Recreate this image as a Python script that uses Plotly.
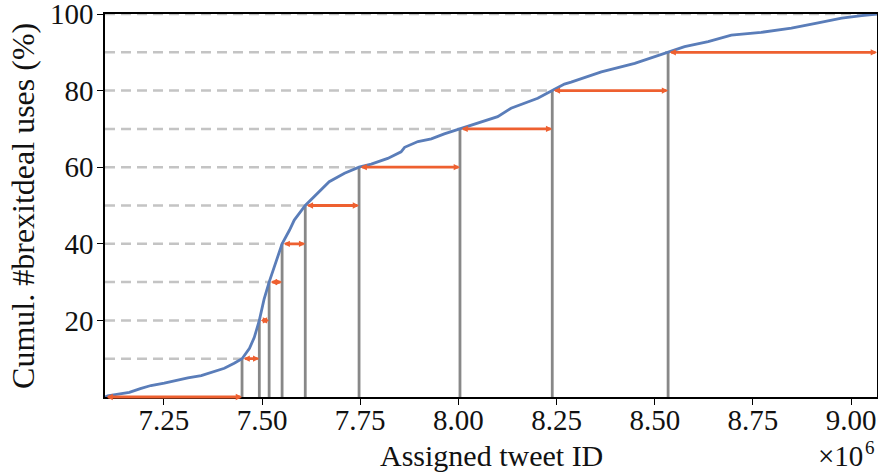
import plotly.graph_objects as go

# Cumulative curve (tweet ID in millions, cumulative %)
curve_id = [7.100, 7.107, 7.130, 7.162, 7.190, 7.217, 7.251, 7.280, 7.311, 7.345,
            7.375, 7.404, 7.429, 7.449, 7.468, 7.480, 7.493, 7.505, 7.518, 7.531,
            7.540, 7.551, 7.570, 7.582, 7.610, 7.633, 7.671, 7.710, 7.747, 7.778,
            7.820, 7.854, 7.863, 7.897, 7.931, 7.964, 8.004, 8.066, 8.100, 8.134,
            8.168, 8.202, 8.239, 8.270, 8.287, 8.330, 8.364, 8.449, 8.534, 8.576,
            8.636, 8.695, 8.771, 8.848, 8.916, 8.976, 9.027, 9.066]
curve_pct = [0.0, 0.3, 0.7, 1.2, 2.2, 3.0, 3.6, 4.3, 5.0, 5.6,
             6.5, 7.5, 8.8, 10.0, 12.7, 15.5, 20.0, 25.5, 30.0, 34.0,
             37.0, 40.0, 43.6, 46.2, 50.0, 52.3, 56.2, 58.4, 60.0, 60.8,
             62.3, 64.0, 65.2, 66.7, 67.4, 68.7, 70.0, 71.9, 73.2, 75.4,
             76.7, 78.0, 80.0, 81.7, 82.2, 83.8, 84.9, 87.1, 90.0, 91.5,
             92.8, 94.5, 95.2, 96.3, 97.7, 98.9, 99.6, 100.0]

# Decile levels and where the curve crosses them
decile_pct = [10, 20, 30, 40, 50, 60, 70, 80, 90]
decile_id = [7.449, 7.493, 7.518, 7.551, 7.610, 7.747, 8.004, 8.239, 8.534]
id_min = 7.100
id_max = 9.066

xtick_vals = [7.25, 7.50, 7.75, 8.00, 8.25, 8.50, 8.75, 9.00]
ytick_vals = [20, 40, 60, 80, 100]

BLUE = "#5A7DB9"
ORANGE = "#EE6030"
GRAY = "#888888"
LGRAY = "#C4C4C4"
FONT = "Liberation Serif"
TXT = "#111111"

fig = go.Figure()

# dashed horizontal guides
dx, dy = [], []
for p, xi in zip(decile_pct, decile_id):
    dx += [id_min, xi, None]
    dy += [p, p, None]
dx += [id_min, id_max, None]
dy += [100, 100, None]
fig.add_trace(go.Scatter(x=dx, y=dy, mode="lines",
                         line=dict(color=LGRAY, width=2.5, dash="10px,6px"),
                         hoverinfo="skip", showlegend=False))

# vertical grey lines
vx, vy = [], []
for p, xi in zip(decile_pct, decile_id):
    vx += [xi, xi, None]
    vy += [0, p, None]
fig.add_trace(go.Scatter(x=vx, y=vy, mode="lines",
                         line=dict(color=GRAY, width=2.8),
                         hoverinfo="skip", showlegend=False))

# cumulative curve
fig.add_trace(go.Scatter(x=curve_id, y=curve_pct, mode="lines",
                         line=dict(color=BLUE, width=2.8),
                         showlegend=False))

# orange double-headed arrows between deciles
starts = [id_min] + decile_id
ends = decile_id + [id_max]
levels = [0] + decile_pct
for xs, xe, lv in zip(starts, ends, levels):
    fig.add_annotation(x=xe, y=lv, ax=xs, ay=lv, xref="x", yref="y",
                       axref="x", ayref="y", text="", showarrow=True,
                       arrowhead=2, arrowside="end+start", arrowsize=0.45,
                       arrowwidth=2.8, arrowcolor=ORANGE)

# axis titles and offset label
fig.add_annotation(text="Assigned tweet ID", xref="paper", yref="paper",
                   x=0.5, y=-0.152, xanchor="center", yanchor="middle",
                   showarrow=False, font=dict(family=FONT, size=30, color=TXT))
fig.add_annotation(text="Cumul. #brexitdeal uses (%)", xref="paper", yref="paper",
                   x=-0.107, y=0.50, xanchor="center", yanchor="middle", textangle=-90,
                   showarrow=False, font=dict(family=FONT, size=32, color=TXT))
fig.add_annotation(text="×10", xref="paper", yref="paper",
                   x=0.984, y=-0.153, xanchor="right", yanchor="middle",
                   showarrow=False, font=dict(family=FONT, size=29, color=TXT))
fig.add_annotation(text="6", xref="paper", yref="paper",
                   x=1.0, y=-0.131, xanchor="right", yanchor="middle",
                   showarrow=False, font=dict(family=FONT, size=19, color=TXT))

axis_common = dict(showgrid=False, zeroline=False, showline=True, mirror=True,
                   linecolor="black", linewidth=1.5, ticks="outside", ticklen=6,
                   tickcolor="black", automargin=False, ticklabeloverflow="allow",
                   tickfont=dict(family=FONT, size=29, color=TXT))

fig.update_layout(
    width=878, height=475,
    margin=dict(l=105, r=1, t=14, b=78),
    paper_bgcolor="white", plot_bgcolor="white",
    font=dict(family=FONT, size=26, color=TXT),
    xaxis=dict(range=[id_min, id_max], tickvals=xtick_vals, tickformat=".2f",
               ticklabelstandoff=-10, **axis_common),
    yaxis=dict(range=[0, 100], tickvals=ytick_vals, ticklabelstandoff=-2,
               **axis_common),
)

fig.write_html("out.html", config={"displayModeBar": False},
               post_script="document.body.style.margin='0';document.body.style.overflow='hidden';")
